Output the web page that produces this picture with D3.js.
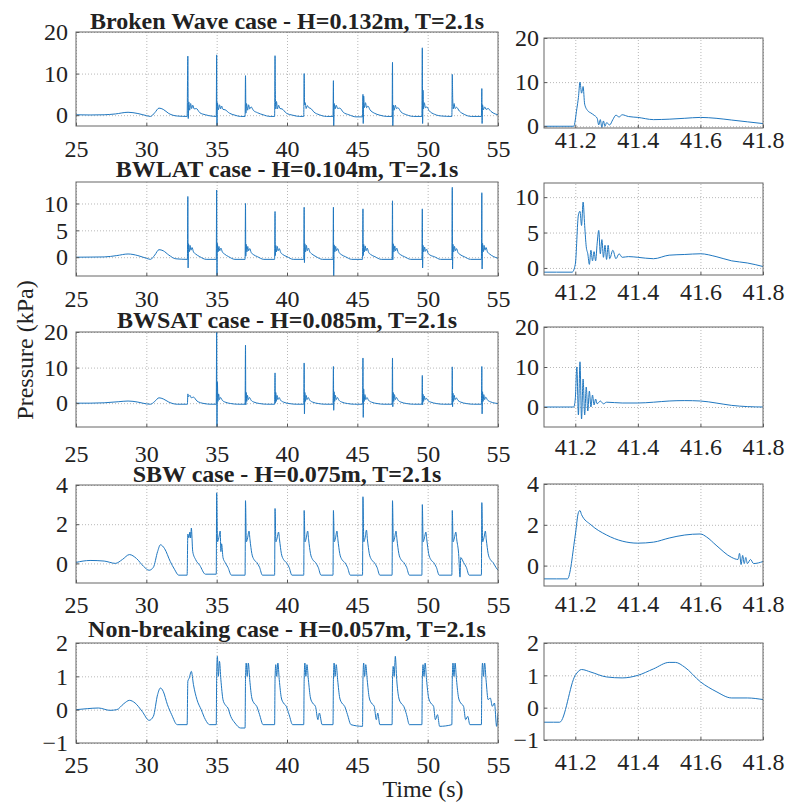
<!DOCTYPE html>
<html lang="en">
<head>
<meta charset="UTF-8">
<title>Pressure time series</title>
<script src="https://d3js.org/d3.v7.min.js"></script>
<style>
    body { margin: 0; background: #fff; }
    .grid line { stroke: #b8b8b8; stroke-dasharray: 1,2; }
    .grid path { display: none; }
    .axis path { display: none; }
    .axis line { stroke: #555; }
    .box { fill: none; stroke: #666; stroke-width: 1; }
    .trace { fill: none; stroke: #1f77c0; stroke-width: 1; }
</style>
</head>
<body>
<svg width="788" height="810"></svg>
<script>
    // tick values and titles
    const leftTicksX = [25, 30, 35, 40, 45, 50, 55];
    const rightTicksX = [41.2, 41.4, 41.6, 41.8];
    const titles = [
        "Broken Wave case - H=0.132m, T=2.1s",
        "BWLAT case - H=0.104m, T=2.1s",
        "BWSAT case - H=0.085m, T=2.1s",
        "SBW case - H=0.075m, T=2.1s",
        "Non-breaking case - H=0.057m, T=2.1s"
    ];
    const yTicks = [[0, 10, 20], [0, 5, 10], [0, 10, 20], [0, 2, 4], [-1, 0, 1, 2]];
    const leftDomains = [[-2.6, 20], [-3.5, 14], [-6.7, 20], [-1, 4], [-1, 2]];
    const rightDomains = [[-0.4, 20], [-1, 12], [-5, 20], [-1, 4], [-1, 2]];

    // time series: [t (s), pressure (kPa)]
    const brokenFull = [
        [25,0.1],[26,0.05],[27,0.1],[27.8,0.3],[28.7,0.7],[29.4,0.4],[30,-0.1],[30.3,-0.3],[30.6,0.6],[30.9,1.7],[31.2,1.4],[31.6,0.4],[32.2,-0.2],[32.9,-0.3],
        [32.95,14.2],[32.98,-0.8],[33.02,3.2],[33.08,1.2],[33.15,2.8],[33.22,1.6],[33.3,2.4],[33.4,1.5],[33.55,1.6],[33.8,0.6],[34.2,0.1],[34.6,-0.2],[34.97,-0.3],
        [35.0,14.5],[35.02,-2.6],[35.05,3.0],[35.12,1.3],[35.2,2.5],[35.28,1.5],[35.35,2.2],[35.45,1.4],[35.6,1.3],[35.9,0.5],[36.3,0],[36.7,-0.3],[37.02,-0.3],
        [37.05,9.5],[37.08,0.5],[37.12,2.8],[37.2,1.2],[37.27,2.5],[37.35,1.5],[37.45,2.0],[37.6,1.2],[37.9,0.6],[38.3,0.1],[38.8,-0.3],[39.12,-0.3],
        [39.15,14.3],[39.17,6],[39.2,1.5],[39.25,3.3],[39.32,1.5],[39.4,2.4],[39.5,1.6],[39.65,1.5],[39.95,0.5],[40.4,0],[40.9,-0.3],[41.19,-0.3],
        [41.22,10],[41.25,2.5],[41.3,3.0],[41.36,1.6],[41.45,2.3],[41.55,1.8],[41.7,1.6],[41.9,0.8],[42.3,0.1],[42.8,-0.3],[43.27,-0.3],
        [43.3,8.3],[43.32,-2.6],[43.36,2.8],[43.42,1.5],[43.5,2.4],[43.6,1.6],[43.75,1.7],[44.0,0.7],[44.4,0.1],[44.9,-0.4],[45.37,-0.4],
        [45.4,5.0],[45.42,-2],[45.45,4.6],[45.5,1.8],[45.58,3.0],[45.66,1.8],[45.75,2.2],[45.9,1.3],[46.2,0.5],[46.6,0],[47.1,-0.3],[47.47,-0.3],
        [47.5,12.7],[47.52,-2.6],[47.56,2.4],[47.62,1.2],[47.7,2.4],[47.78,1.6],[47.88,1.8],[48.1,0.8],[48.5,0.1],[49.0,-0.3],[49.59,-0.3],
        [49.62,16.2],[49.64,-2],[49.67,6],[49.7,1.5],[49.76,3.0],[49.84,1.8],[49.95,2.0],[50.1,1.1],[50.5,0.2],[51.0,-0.2],[51.72,-0.3],
        [51.75,9.8],[51.78,4],[51.82,1.5],[51.88,2.8],[51.95,1.6],[52.05,1.9],[52.25,1.0],[52.6,0.2],[53.1,-0.3],[53.82,-0.3],
        [53.85,6.4],[53.87,-2],[53.9,2.5],[53.96,1.3],[54.05,2.0],[54.15,1.4],[54.3,1.6],[54.5,0.9],[54.8,0.3],[55,0.1]
    ];
    const bwlatFull = [
        [25,0],[26,0.02],[27,0.05],[27.9,0.3],[28.7,0.6],[29.4,0.3],[30,-0.2],[30.3,-0.4],[30.6,0.4],[30.9,1.4],[31.2,1.2],[31.6,0.4],[32.1,-0.3],[32.92,-0.4],
        [32.95,11.3],[32.97,-2],[33.0,2.5],[33.05,1.0],[33.11,2.2],[33.17,1.3],[33.25,1.8],[33.35,1.0],[33.5,0.6],[33.8,0.1],[34.25,-0.4],[34.97,-0.4],
        [35.0,12.5],[35.02,-3.5],[35.05,2.6],[35.1,1.0],[35.16,2.0],[35.22,1.2],[35.3,1.7],[35.4,1.0],[35.55,0.6],[35.85,0.1],[36.3,-0.4],[37.02,-0.4],
        [37.05,10],[37.07,0.2],[37.1,2.4],[37.15,1.0],[37.21,2.0],[37.27,1.2],[37.35,1.6],[37.45,0.9],[37.6,0.5],[37.9,0.1],[38.35,-0.4],[39.12,-0.4],
        [39.15,8.5],[39.17,0.3],[39.2,2.2],[39.25,1.0],[39.31,2.0],[39.37,1.2],[39.45,1.6],[39.55,0.9],[39.7,0.5],[40.0,0.1],[40.45,-0.4],[41.19,-0.4],
        [41.22,9.3],[41.24,-1],[41.27,2.5],[41.32,1.0],[41.38,2.2],[41.44,1.2],[41.52,1.7],[41.62,1.0],[41.77,0.6],[42.07,0.1],[42.52,-0.4],[43.27,-0.4],
        [43.3,9.3],[43.32,-3.5],[43.35,2.3],[43.4,1.0],[43.46,2.0],[43.52,1.2],[43.6,1.6],[43.7,0.9],[43.85,0.5],[44.15,0.1],[44.6,-0.4],[45.37,-0.4],
        [45.4,9],[45.42,0.3],[45.45,2.4],[45.5,1.0],[45.56,2.1],[45.62,1.2],[45.7,1.7],[45.8,0.9],[45.95,0.5],[46.25,0.1],[46.7,-0.4],[47.47,-0.4],
        [47.5,10.5],[47.52,-0.5],[47.55,2.5],[47.6,1.0],[47.66,2.1],[47.72,1.2],[47.8,1.7],[47.9,0.9],[48.05,0.5],[48.35,0.1],[48.8,-0.4],[49.59,-0.4],
        [49.62,9],[49.64,-2],[49.67,2.2],[49.72,1.0],[49.78,1.9],[49.84,1.1],[49.92,1.5],[50.02,0.8],[50.17,0.4],[50.47,0.1],[50.92,-0.4],[51.72,-0.4],
        [51.75,13],[51.77,-2.2],[51.8,2.4],[51.85,1.0],[51.91,2.0],[51.97,1.2],[52.05,1.6],[52.15,0.9],[52.3,0.5],[52.6,0.1],[53.05,-0.4],[53.82,-0.4],
        [53.85,12],[53.87,-2.2],[53.9,2.6],[53.95,1.0],[54.01,2.2],[54.07,1.3],[54.15,1.8],[54.25,1.0],[54.4,0.6],[54.7,0.1],[55,-0.2]
    ];
    const bwsatFull = [
        [25,0],[26,0],[27,0.1],[28,0.4],[28.7,0.6],[29.4,0.3],[30,-0.2],[30.3,-0.3],[30.6,0.5],[30.9,1.5],[31.2,1.2],[31.6,0.3],[32.2,-0.3],[32.92,-0.3],
        [32.95,2.6],[33.0,1.8],[33.1,2.2],[33.2,1.5],[33.35,1.7],[33.6,0.6],[34.1,-0.1],[34.6,-0.3],[34.97,-0.3],
        [35.0,20],[35.02,-6.7],[35.05,6],[35.09,0.5],[35.14,2.6],[35.2,1.0],[35.28,1.6],[35.4,0.8],[35.6,0.3],[36.0,-0.1],[36.5,-0.3],[37.02,-0.3],
        [37.05,16.3],[37.07,-0.5],[37.1,3],[37.14,0.5],[37.19,2.2],[37.25,1.0],[37.33,1.6],[37.45,0.8],[37.65,0.3],[38.05,-0.1],[38.55,-0.3],[39.12,-0.3],
        [39.15,8.5],[39.17,0],[39.2,3],[39.24,0.5],[39.29,2.2],[39.35,1.0],[39.43,1.6],[39.55,0.8],[39.75,0.3],[40.15,-0.1],[40.65,-0.3],[41.19,-0.3],
        [41.22,11.3],[41.24,-3],[41.27,3],[41.31,0.5],[41.36,2.2],[41.42,1.0],[41.5,1.6],[41.62,0.8],[41.82,0.3],[42.22,-0.1],[42.72,-0.3],[43.27,-0.3],
        [43.3,10.3],[43.32,-2],[43.35,3.2],[43.39,0.5],[43.44,2.2],[43.5,1.0],[43.58,1.6],[43.7,0.8],[43.9,0.3],[44.3,-0.1],[44.8,-0.3],[45.37,-0.3],
        [45.4,12.7],[45.42,-4],[45.45,4],[45.49,0.5],[45.54,2.4],[45.6,1.0],[45.68,1.6],[45.8,0.8],[46.0,0.3],[46.4,-0.1],[46.9,-0.3],[47.47,-0.3],
        [47.5,12.7],[47.52,-1],[47.55,3],[47.59,0.5],[47.64,2.4],[47.7,1.0],[47.78,1.6],[47.9,0.8],[48.1,0.3],[48.5,-0.1],[49.0,-0.3],[49.59,-0.3],
        [49.62,7.8],[49.64,-0.5],[49.67,2.5],[49.71,0.5],[49.76,2.0],[49.82,1.0],[49.9,1.4],[50.02,0.7],[50.22,0.3],[50.62,-0.1],[51.12,-0.3],[51.72,-0.3],
        [51.75,10.2],[51.77,-1],[51.8,2.8],[51.84,0.5],[51.89,2.2],[51.95,1.0],[52.03,1.5],[52.15,0.8],[52.35,0.3],[52.75,-0.1],[53.25,-0.3],[53.82,-0.3],
        [53.85,10.3],[53.87,-3],[53.9,3.2],[53.94,0.5],[53.99,2.4],[54.05,1.0],[54.13,1.7],[54.25,0.9],[54.45,0.4],[54.8,0.0],[55,-0.1]
    ];
    const sbwFull = [
        [25,0.05],[26,0.15],[27,0.12],[27.8,0.0],[28.3,0.2],[28.8,0.45],[29.3,0.25],[29.8,-0.15],[30.2,-0.35],[30.5,-0.2],[30.8,0.6],[31.0,0.95],[31.3,0.75],[31.7,0.1],[32.0,-0.3],[32.3,-0.6],[32.9,-0.6],
        [32.95,1.5],[33.02,1.3],[33.1,1.6],[33.15,1.3],[33.2,1.8],[33.3,0.6],[33.5,0.2],[33.8,-0.1],[34.2,-0.55],[34.97,-0.55],
        [35.0,3.6],[35.06,1.1],[35.15,1.3],[35.25,1.65],[35.3,0.6],[35.35,1.0],[35.45,0.3],[35.6,0.05],[35.8,-0.2],[36.05,-0.6],[37.02,-0.6],
        [37.05,3.2],[37.11,1.1],[37.2,1.3],[37.3,1.65],[37.37,1.2],[37.5,0.5],[37.65,0.2],[37.85,0.05],[38.05,-0.2],[38.25,-0.6],[39.12,-0.6],
        [39.15,2.8],[39.21,1.1],[39.3,1.3],[39.4,1.6],[39.47,1.2],[39.6,0.5],[39.75,0.2],[39.95,0.05],[40.15,-0.2],[40.35,-0.6],[41.19,-0.6],
        [41.22,2.7],[41.28,1.1],[41.37,1.3],[41.47,1.65],[41.54,1.2],[41.67,0.5],[41.82,0.2],[42.02,0.05],[42.22,-0.2],[42.42,-0.6],[43.27,-0.6],
        [43.3,2.7],[43.36,1.1],[43.45,1.3],[43.55,1.65],[43.62,1.2],[43.75,0.5],[43.9,0.2],[44.1,0.05],[44.3,-0.2],[44.5,-0.6],[45.37,-0.6],
        [45.4,3.4],[45.46,1.1],[45.55,1.3],[45.65,1.7],[45.72,1.2],[45.85,0.5],[46.0,0.2],[46.2,0.05],[46.4,-0.2],[46.6,-0.6],[47.47,-0.6],
        [47.5,3.2],[47.56,1.1],[47.65,1.3],[47.75,1.65],[47.82,1.2],[47.95,0.5],[48.1,0.2],[48.3,0.05],[48.5,-0.2],[48.7,-0.6],[49.59,-0.6],
        [49.62,3.0],[49.68,1.1],[49.77,1.3],[49.87,1.6],[49.94,1.2],[50.07,0.5],[50.22,0.2],[50.42,0.05],[50.62,-0.2],[50.82,-0.6],[51.72,-0.6],
        [51.75,2.7],[51.81,1.1],[51.9,1.3],[52.0,1.6],[52.07,1.2],[52.2,0.5],[52.3,-0.7],[52.35,0.3],[52.55,0.05],[52.75,-0.2],[52.95,-0.6],[53.82,-0.6],
        [53.85,3.1],[53.91,1.1],[54.0,1.3],[54.1,1.65],[54.17,1.2],[54.3,0.5],[54.45,0.2],[54.65,0.05],[54.85,-0.2],[55,-0.35]
    ];
    const nonBreakFull = [
        [25,0],[25.8,0.03],[26.6,0.05],[27.4,-0.02],[27.9,0.0],[28.4,0.18],[28.8,0.28],[29.2,0.2],[29.7,-0.05],[30.2,-0.32],[30.5,-0.2],[30.8,0.45],[31.0,0.65],[31.2,0.55],[31.5,0.15],[31.8,-0.15],[32.2,-0.45],[32.9,-0.45],
        [32.95,0.85],[33.05,0.95],[33.2,1.15],[33.35,0.75],[33.6,0.3],[33.9,0.0],[34.2,-0.3],[34.5,-0.45],[34.97,-0.45],
        [35.0,1.0],[35.05,1.6],[35.12,1.0],[35.2,1.45],[35.3,0.9],[35.45,0.3],[35.6,0.15],[35.8,0.05],[36.0,-0.2],[36.3,-0.4],[36.7,-0.55],[37.02,-0.55],
        [37.05,0.9],[37.1,1.4],[37.17,1.0],[37.25,1.4],[37.35,0.9],[37.5,0.35],[37.65,0.2],[37.85,0.1],[38.05,-0.15],[38.3,-0.45],[39.12,-0.45],
        [39.15,0.9],[39.2,1.35],[39.27,1.0],[39.35,1.4],[39.45,0.9],[39.6,0.35],[39.75,0.2],[39.95,0.1],[40.15,-0.15],[40.4,-0.45],[41.19,-0.45],
        [41.22,0.9],[41.27,1.4],[41.34,1.0],[41.42,1.35],[41.52,0.9],[41.67,0.35],[41.82,0.2],[42.02,0.1],[42.2,-0.3],[42.3,-0.1],[42.5,-0.45],[43.27,-0.45],
        [43.3,0.9],[43.35,1.4],[43.42,1.0],[43.5,1.35],[43.6,0.9],[43.75,0.35],[43.9,0.2],[44.1,0.1],[44.3,-0.15],[44.55,-0.45],[45.37,-0.5],
        [45.4,0.9],[45.45,1.4],[45.52,1.0],[45.6,1.35],[45.7,0.9],[45.85,0.35],[46.0,0.2],[46.2,0.1],[46.35,-0.3],[46.45,-0.1],[46.6,-0.45],[47.47,-0.45],
        [47.5,0.9],[47.55,1.3],[47.62,1.0],[47.7,1.6],[47.8,0.9],[47.95,0.35],[48.1,0.2],[48.3,0.1],[48.5,-0.15],[48.7,-0.45],[49.59,-0.45],
        [49.62,0.9],[49.67,1.35],[49.74,1.0],[49.82,1.4],[49.92,0.9],[50.07,0.35],[50.22,0.2],[50.42,0.1],[50.55,-0.3],[50.7,-0.15],[50.85,-0.5],[51.72,-0.45],
        [51.75,0.9],[51.8,1.4],[51.87,1.0],[51.95,1.4],[52.05,0.9],[52.2,0.35],[52.35,0.2],[52.55,0.1],[52.7,-0.3],[52.85,-0.2],[53.0,-0.45],[53.82,-0.45],
        [53.85,0.9],[53.9,1.4],[53.97,1.0],[54.05,1.4],[54.15,0.9],[54.3,0.3],[54.45,0.35],[54.6,0.1],[54.75,0.2],[54.9,-0.5],[55,-0.1]
    ];

    // zoom on the impact near t = 41.2 s
    const brokenZoom = [
        [41.1,0],[41.15,0],[41.195,0],[41.205,4],[41.21,6.5],[41.215,10],[41.22,7.5],[41.225,9],[41.23,5],[41.24,3.5],[41.25,3],[41.26,2.5],[41.27,1.8],
        [41.275,0.3],[41.28,1.5],[41.285,-0.3],[41.29,1.2],[41.295,0],[41.3,0.8],[41.31,0.3],[41.32,1.5],[41.33,2.5],[41.34,2.1],[41.35,2.6],[41.37,2.2],
        [41.4,2.0],[41.45,1.5],[41.5,1.6],[41.55,1.8],[41.6,2.0],[41.65,1.8],[41.7,1.4],[41.75,1.0],[41.8,0.6]
    ];
    const bwlatZoom = [
        [41.1,-0.6],[41.14,-0.6],[41.19,-0.6],[41.2,0.5],[41.21,7.5],[41.215,8],[41.22,6],[41.225,9.3],[41.23,6],[41.235,3],[41.24,2],[41.245,0.5],
        [41.25,2.5],[41.255,1],[41.26,2.3],[41.265,1],[41.27,3.5],[41.275,5.3],[41.28,2],[41.285,4],[41.29,1.5],[41.295,3.2],[41.3,1.2],[41.305,3.2],
        [41.31,1.3],[41.32,2.5],[41.33,1.3],[41.34,2.0],[41.35,1.5],[41.37,1.6],[41.4,1.5],[41.45,1.3],[41.5,1.8],[41.55,1.9],[41.6,2.0],[41.65,1.6],
        [41.7,1.0],[41.75,0.7],[41.8,0.2]
    ];
    const bwsatZoom = [
        [41.1,0],[41.15,0],[41.195,0],[41.2,2],[41.205,10],[41.21,-2],[41.215,11.3],[41.22,-3],[41.225,7],[41.23,-2],[41.235,5],[41.24,-1],[41.245,4],
        [41.25,0],[41.255,3],[41.26,0.5],[41.265,2],[41.27,0.8],[41.28,1.5],[41.29,0.8],[41.3,1.2],[41.35,1.0],[41.4,1.0],[41.45,1.2],[41.5,1.5],
        [41.55,1.6],[41.6,1.5],[41.65,1.0],[41.7,0.4],[41.75,0.1],[41.8,0]
    ];
    const sbwZoom = [
        [41.1,-0.65],[41.14,-0.65],[41.175,-0.65],[41.2,1.5],[41.21,2.6],[41.215,2.7],[41.22,2.5],[41.25,2.0],[41.3,1.5],[41.35,1.2],[41.4,1.1],
        [41.45,1.15],[41.5,1.35],[41.55,1.5],[41.6,1.55],[41.62,1.4],[41.65,1.0],[41.7,0.4],[41.72,0.3],[41.725,0.6],[41.73,0.05],[41.735,0.5],
        [41.74,0.1],[41.745,0.4],[41.75,0.1],[41.76,0.3],[41.77,0.1],[41.8,0.2]
    ];
    const nonBreakZoom = [
        [41.1,-0.45],[41.13,-0.45],[41.15,-0.45],[41.2,1.0],[41.22,1.18],[41.25,1.1],[41.3,0.95],[41.35,0.92],[41.4,1.0],[41.45,1.2],[41.5,1.4],
        [41.52,1.4],[41.55,1.25],[41.6,0.8],[41.65,0.5],[41.7,0.3],[41.75,0.3],[41.8,0.25]
    ];

    const fullSeries = [brokenFull, bwlatFull, bwsatFull, sbwFull, nonBreakFull];
    const zoomSeries = [brokenZoom, bwlatZoom, bwsatZoom, sbwZoom, nonBreakZoom];

    // panel placement (pixels)
    const leftX = [76, 498], rightX = [544, 763];
    const leftBox = [[32, 126], [182, 276], [332, 427], [485, 583], [643, 743]];
    const rightBox = [[38, 128], [183, 275], [327, 427], [484, 586], [643, 740]];
    const leftLab = [157, 307, 462, 613, 773];
    const rightLab = [148, 300, 455, 612, 770];
    const titleY = [29, 177, 328, 482, 637];

    const svg = d3.select("svg");

    function panel(id, xr, yr, xDom, yDom, xTicks, yT, data, labBase, ypad) {
        const x = d3.scaleLinear().domain(xDom).range(xr);
        const y = d3.scaleLinear().domain(yDom).range([yr[1], yr[0]]);
        const w = xr[1] - xr[0], h = yr[1] - yr[0];

        // grid
        svg.append("g").attr("class", "grid")
            .attr("transform", `translate(0,${yr[1]})`)
            .call(d3.axisBottom(x).tickValues(xTicks).tickSize(-h).tickFormat(""));
        svg.append("g").attr("class", "grid")
            .attr("transform", `translate(${xr[0]},0)`)
            .call(d3.axisLeft(y).tickValues(yT).tickSize(-w).tickFormat(""));

        // clip
        svg.append("clipPath").attr("id", id)
            .append("rect").attr("x", xr[0]).attr("y", yr[0]).attr("width", w).attr("height", h);

        const line = d3.line()
            .x(d => x(d[0]))
            .y(d => y(d[1]))
            .curve(d3.curveMonotoneX);

        svg.append("path")
            .datum(data)
            .attr("class", "trace")
            .attr("clip-path", `url(#${id})`)
            .attr("d", line);

        // axes with inward ticks
        svg.append("g").attr("class", "axis")
            .attr("transform", `translate(0,${yr[1]})`)
            .call(d3.axisBottom(x).tickValues(xTicks).tickSize(-3)
                .tickPadding(labBase - yr[1] - 17).tickFormat(d3.format("")));
        svg.append("g").attr("class", "axis")
            .attr("transform", `translate(${xr[0]},0)`)
            .call(d3.axisLeft(y).tickValues(yT).tickSize(-3).tickPadding(ypad)
                .tickFormat(d3.format("")));

        svg.append("rect").attr("class", "box")
            .attr("x", xr[0]).attr("y", yr[0]).attr("width", w).attr("height", h);
    }

    for (let i = 0; i < 5; i++) {
        panel("cl" + i, leftX, leftBox[i], [25, 55], leftDomains[i], leftTicksX, yTicks[i], fullSeries[i], leftLab[i], 8);
        panel("cr" + i, rightX, rightBox[i], [41.1, 41.8], rightDomains[i], rightTicksX, yTicks[i], zoomSeries[i], rightLab[i], 5);

        svg.append("text").attr("class", "title")
            .attr("x", (leftX[0] + leftX[1]) / 2).attr("y", titleY[i])
            .attr("text-anchor", "middle")
            .style("font-weight", "bold")
            .text(titles[i]);
    }

    svg.append("text")
        .attr("transform", "translate(33,350) rotate(-90)")
        .attr("text-anchor", "middle")
        .text("Pressure (kPa)");

    svg.append("text")
        .attr("x", 423).attr("y", 797)
        .attr("text-anchor", "middle")
        .text("Time (s)");

    // serif lettering everywhere
    svg.selectAll("text")
        .style("font-family", '"Liberation Serif"')
        .style("font-size", "24px")
        .style("fill", "#222");
</script>
</body>
</html>
